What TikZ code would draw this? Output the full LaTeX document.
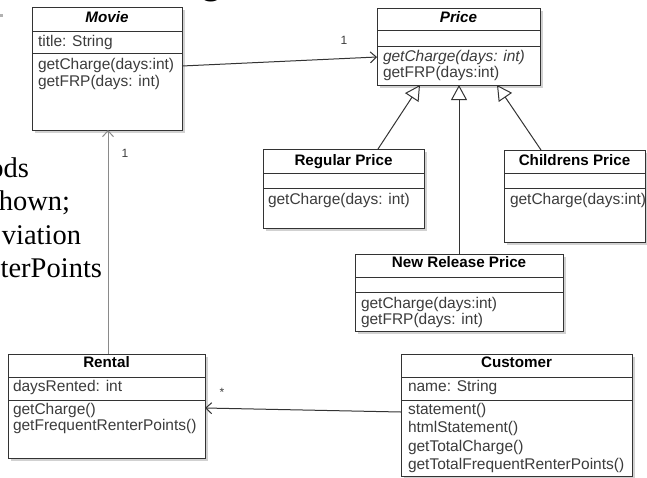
\documentclass[tikz,border=0pt]{standalone}
\usepackage{fontspec}
\setmainfont{Liberation Sans}
\newfontfamily\slidefont{Liberation Serif}
\usetikzlibrary{arrows.meta,shadows}
\definecolor{boxc}{HTML}{333333}
\definecolor{txtc}{HTML}{3C3C3C}
\definecolor{linec}{HTML}{333333}
\definecolor{greyline}{HTML}{8A8A8A}
\begin{document}
\begin{tikzpicture}[x=1pt,y=-1pt,
  every node/.style={inner sep=0pt, outer sep=0pt},
  classbox/.style={draw=boxc, line width=1pt, fill=white, anchor=north west,
    drop shadow={shadow xshift=2.5pt, shadow yshift=-2.5pt, fill=black, opacity=0.18}},
  divider/.style={draw=boxc, line width=1pt},
  ctitle/.style={font=\fontsize{15.2}{18}\selectfont\bfseries, text=black, anchor=base},
  ititle/.style={font=\fontsize{15.2}{18}\selectfont\bfseries\itshape, text=black, anchor=base},
  member/.style={font=\fontsize{15.5}{18}\selectfont, text=txtc, anchor=base west},
  imember/.style={member, font=\fontsize{15.5}{18}\selectfont\itshape},
  assoc/.style={draw=linec, line width=1pt, -{Straight Barb[length=6pt,width=11pt]}},
  gen/.style={draw=linec, line width=1pt, -{Triangle[open,length=15pt,width=16pt,fill=white]}},
  mult/.style={font=\fontsize{12}{14}\selectfont, text=txtc},
  slide/.style={font=\slidefont\fontsize{28.5}{32}\selectfont, text=black, anchor=base east}
]
\useasboundingbox (0,0) rectangle (647,477);
\clip (0,0) rectangle (647,477);

% slide fragments
\fill[gray!60] (0,14) rectangle (3,17);
\node[slide] (s1) at (29,177) {ods};
\node[slide] (s2) at (70,210) {hown;};
\node[slide] (s3) at (81,244) {viation};
\node[slide] (s4) at (102,277) {terPoints};
\node[font=\fontsize{40}{44}\selectfont\bfseries, anchor=base west] (sg) at (199,-6.5) {g};

% Movie
\node[classbox, minimum width=150pt, minimum height=123pt] (movie) at (32,7) {};
\draw[divider] (movie.west |- 0,31) -- (movie.east |- 0,31);
\draw[divider] (movie.west |- 0,53) -- (movie.east |- 0,53);
\node[ititle] (movie-t) at (107,22) {Movie};
\node[member] (movie-a) at (38,46) {title: String};
\node[member] (movie-m1) at (38,69) {getCharge(days:int)};
\node[member] (movie-m2) at (38,86) {getFRP(days: int)};

% Price
\node[classbox, minimum width=163pt, minimum height=77pt] (price) at (377,8) {};
\draw[divider] (price.west |- 0,30) -- (price.east |- 0,30);
\draw[divider] (price.west |- 0,46) -- (price.east |- 0,46);
\node[ititle] (price-t) at (458.5,22) {Price};
\node[imember] (price-m1) at (383,61) {getCharge(days: int)};
\node[member] (price-m2) at (383,77) {getFRP(days:int)};

% Regular Price
\node[classbox, minimum width=161pt, minimum height=79pt] (regular) at (263,149) {};
\draw[divider] (regular.west |- 0,173) -- (regular.east |- 0,173);
\draw[divider] (regular.west |- 0,188) -- (regular.east |- 0,188);
\node[ctitle] (regular-t) at (343.5,165) {Regular Price};
\node[member] (regular-m1) at (268,204) {getCharge(days: int)};

% Childrens Price
\node[classbox, minimum width=141pt, minimum height=92pt] (children) at (504,150) {};
\draw[divider] (children.west |- 0,173) -- (children.east |- 0,173);
\draw[divider] (children.west |- 0,188) -- (children.east |- 0,188);
\node[ctitle] (children-t) at (574.5,165) {Childrens Price};
\node[member] (children-m1) at (510,204) {getCharge(days:int)};

% New Release Price
\node[classbox, minimum width=208pt, minimum height=77pt] (newrel) at (355,254) {};
\draw[divider] (newrel.west |- 0,277) -- (newrel.east |- 0,277);
\draw[divider] (newrel.west |- 0,292) -- (newrel.east |- 0,292);
\node[ctitle] (newrel-t) at (459,267) {New Release Price};
\node[member] (newrel-m1) at (361,308) {getCharge(days:int)};
\node[member] (newrel-m2) at (361,324) {getFRP(days: int)};

% Rental
\node[classbox, minimum width=197pt, minimum height=104pt] (rental) at (8,354) {};
\draw[divider] (rental.west |- 0,377) -- (rental.east |- 0,377);
\draw[divider] (rental.west |- 0,400) -- (rental.east |- 0,400);
\node[ctitle] (rental-t) at (106.5,367) {Rental};
\node[member] (rental-a) at (13,391) {daysRented: int};
\node[member] (rental-m1) at (13,414) {getCharge()};
\node[member] (rental-m2) at (13,430) {getFrequentRenterPoints()};

% Customer
\node[classbox, minimum width=231pt, minimum height=122pt] (customer) at (401,354) {};
\draw[divider] (customer.west |- 0,377) -- (customer.east |- 0,377);
\draw[divider] (customer.west |- 0,400) -- (customer.east |- 0,400);
\node[ctitle] (customer-t) at (516.5,367) {Customer};
\node[member] (customer-a) at (408,391) {name: String};
\node[member] (customer-m1) at (408,414) {statement()};
\node[member] (customer-m2) at (408,432) {htmlStatement()};
\node[member] (customer-m3) at (408,451) {getTotalCharge()};
\node[member] (customer-m4) at (408,469) {getTotalFrequentRenterPoints()};

% connectors
\draw[assoc] (movie.east |- 0,66) -- (price.west |- 0,57);
\node[mult] (mult1) at (344,40) {1};
\draw[assoc, draw=greyline] (rental.north -| 108,0) -- (movie.south -| 108,0);
\node[mult] (mult2) at (125,153) {1};
\draw[assoc] (customer.west |- 0,412) -- (rental.east |- 0,408);
\node[mult] (mult3) at (222,392) {*};

\draw[gen] (regular.north -| 378,0) -- (price.south -| 420,0);
\draw[gen] (newrel.north -| 459,0) -- (price.south -| 459,0);
\draw[gen] (children.north -| 541,0) -- (price.south -| 497,0);
\end{tikzpicture}
\end{document}
